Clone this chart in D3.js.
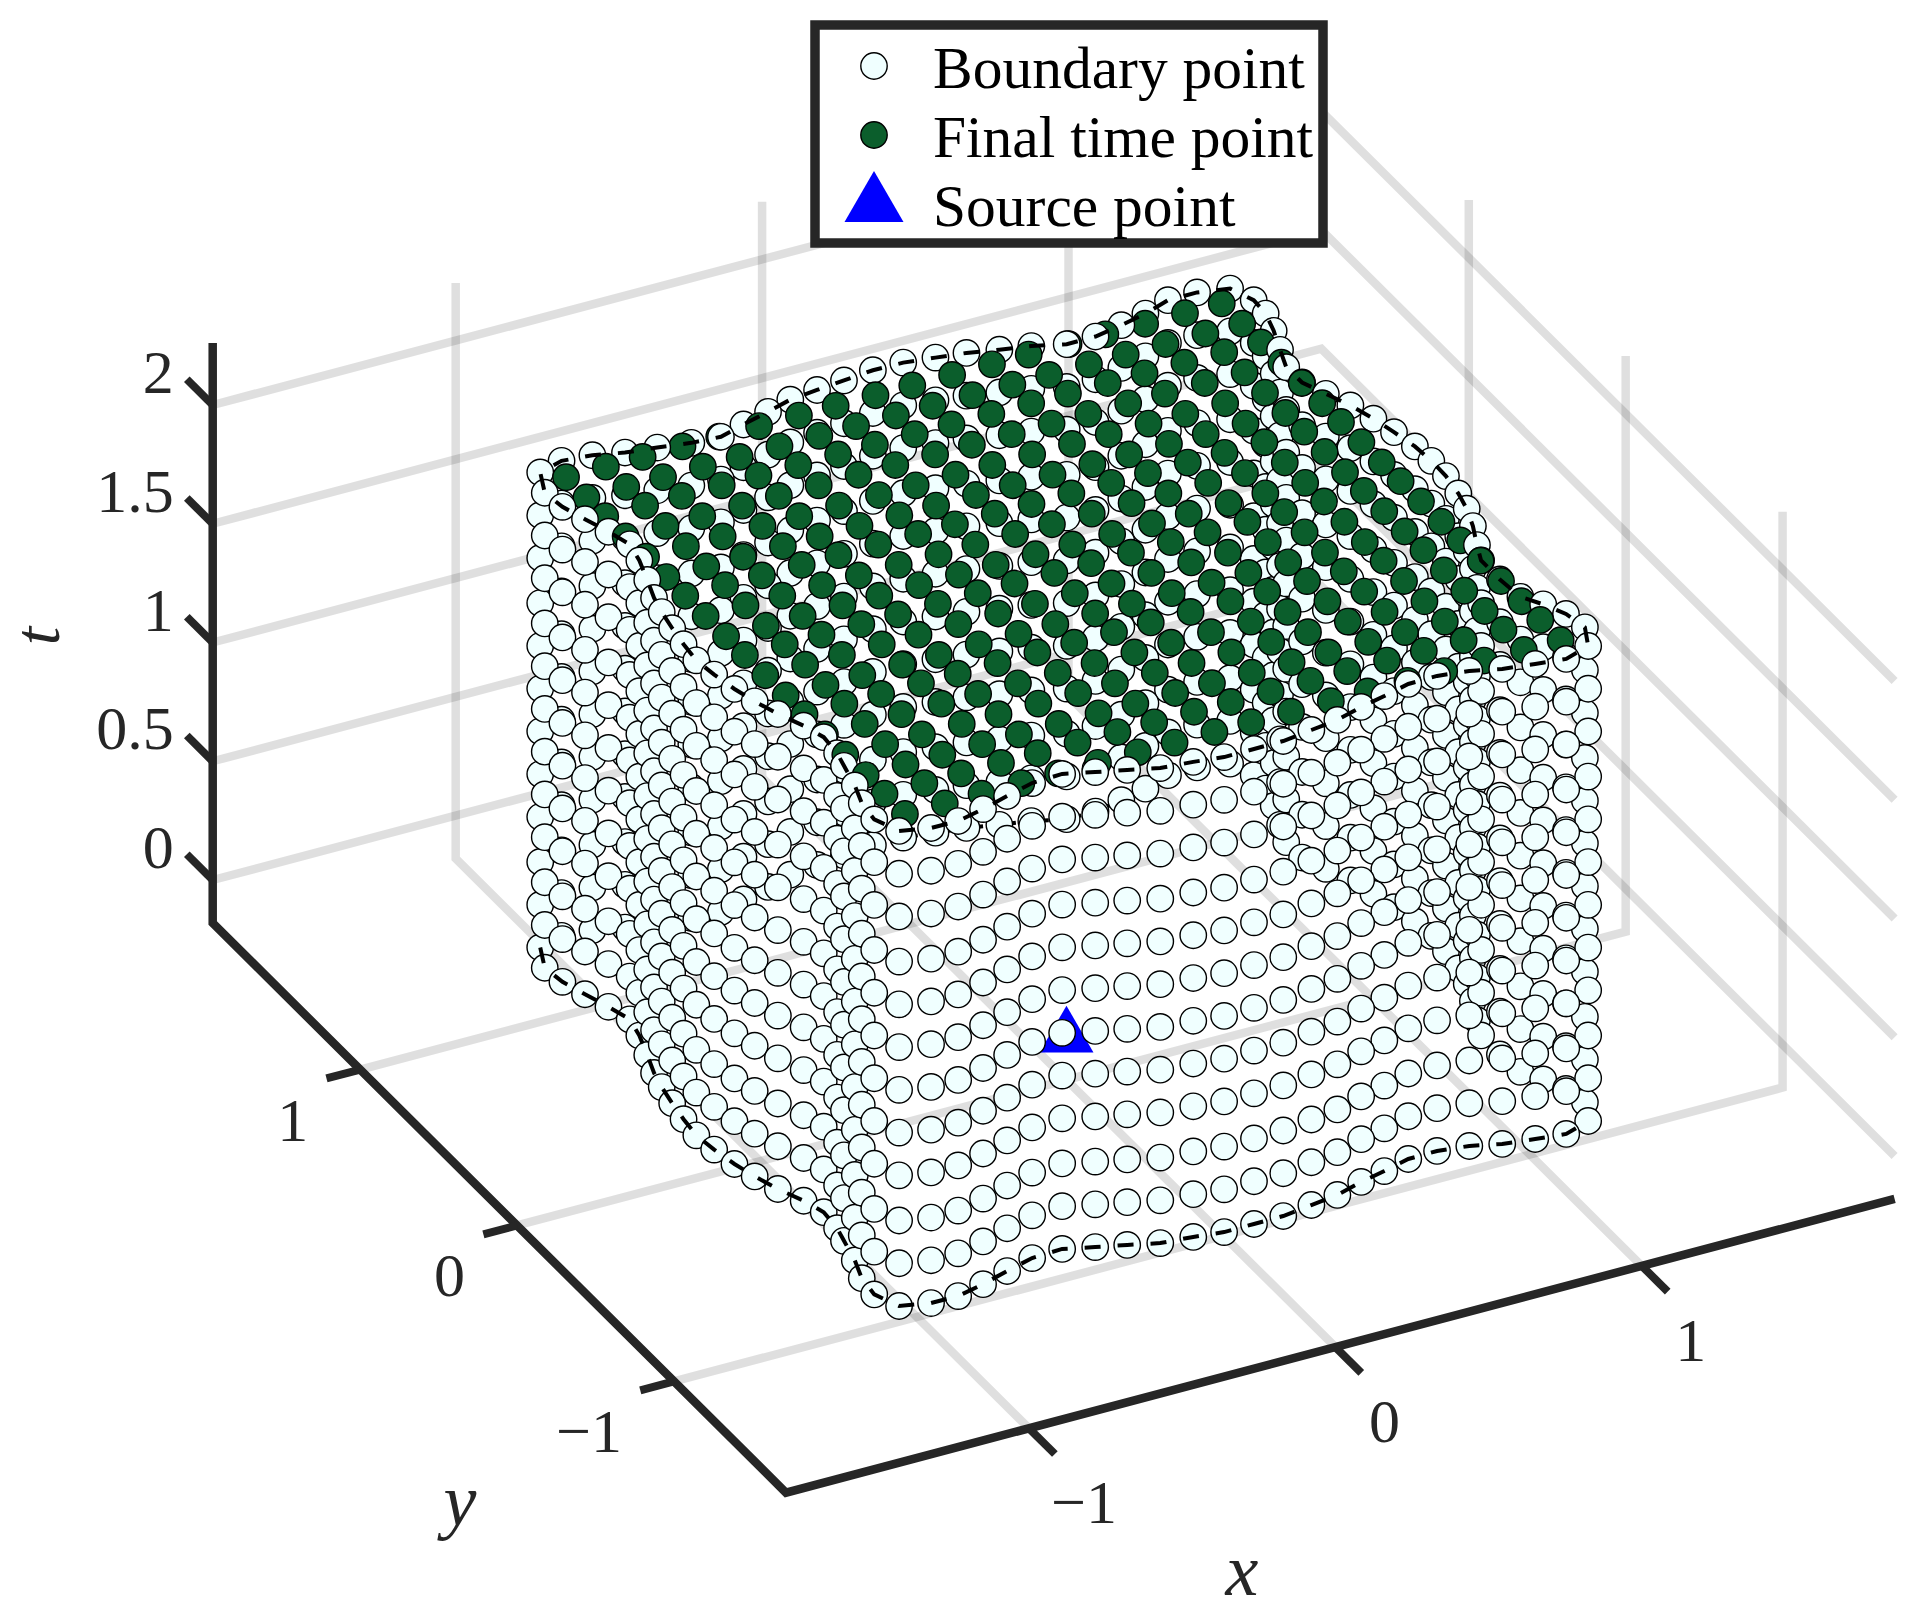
<!DOCTYPE html>
<html>
<head>
<meta charset="utf-8">
<script src="https://d3js.org/d3.v7.min.js"></script>
<style>
	body { margin: 0; background: #fff; }
	text { font-family: "Liberation Serif", serif; fill: #262626; }
	.grid { fill: none; stroke: #000; stroke-opacity: 0.125; stroke-width: 8.5; }
	.axis { fill: none; stroke: #262626; stroke-width: 8.5; stroke-linecap: butt; stroke-linejoin: miter; }
	.tick { fill: none; stroke: #262626; stroke-width: 8; }
	.dash { fill: none; stroke: #000; stroke-width: 4; stroke-dasharray: 16 17; }
	.tick-label { font-size: 62px; }
	.axis-label { font-size: 74px; font-style: italic; }
	.legend-label { font-size: 59.5px; fill: #000; }
</style>
</head>
<body>
<svg id="chart" width="1914" height="1617"></svg>
<script>
var xLim = [-1.793, 1.825];
var yLim = [-1.714, 1.94];
var tLim = [-0.181, 2.261];
var gridTop = 2.243;

var xTicks = [-1, 0, 1];
var yTicks = [-1, 0, 1];
var tTicks = [0, 0.5, 1, 1.5, 2];
var tTickLabels = ["0", "0.5", "1", "1.5", "2"];

// boundary curve: front edge, right edge, back edge, left edge
var boundaryX = [-1.129, -1.039, -0.951, -0.856, -0.76, -0.662, -0.561, -0.471, -0.383, -0.293, -0.192, -0.10, -0.002, 0.094, 0.195, 0.288, 0.383, 0.471, 0.564, 0.659, 0.755, 0.845, 0.943, 1.036,
	1.126, 1.166, 1.152, 1.118, 1.079, 1.071, 1.072, 1.101, 1.14, 1.169, 1.187, 1.2, 1.202, 1.197, 1.18, 1.162, 1.137, 1.104, 1.072, 1.071, 1.10, 1.133, 1.157, 1.161,
	1.13, 1.035, 0.94, 0.847, 0.755, 0.659, 0.565, 0.469, 0.377, 0.284, 0.192, 0.096, -0.002, -0.103, -0.197, -0.291, -0.38, -0.476, -0.566, -0.658, -0.758, -0.854, -0.945, -1.039,
	-1.124, -1.165, -1.156, -1.13, -1.102, -1.08, -1.097, -1.127, -1.156, -1.173, -1.188, -1.20, -1.209, -1.20, -1.185, -1.165, -1.138, -1.102, -1.08, -1.087, -1.102, -1.125, -1.153, -1.163];
var boundaryY = [-1.138, -1.166, -1.167, -1.14, -1.106, -1.074, -1.068, -1.103, -1.135, -1.17, -1.183, -1.20, -1.199, -1.198, -1.18, -1.164, -1.13, -1.106, -1.077, -1.075, -1.093, -1.127, -1.146, -1.162,
	-1.126, -1.027, -0.934, -0.855, -0.786, -0.671, -0.549, -0.466, -0.364, -0.268, -0.179, -0.075, 0.022, 0.117, 0.217, 0.313, 0.411, 0.503, 0.592, 0.691, 0.787, 0.892, 0.99, 1.074,
	1.164, 1.189, 1.189, 1.151, 1.125, 1.102, 1.102, 1.14, 1.164, 1.192, 1.21, 1.228, 1.23, 1.217, 1.205, 1.192, 1.16, 1.129, 1.097, 1.106, 1.128, 1.146, 1.176, 1.189,
	1.159, 1.05, 0.955, 0.862, 0.767, 0.675, 0.58, 0.471, 0.371, 0.289, 0.193, 0.097, -0.002, -0.098, -0.198, -0.288, -0.383, -0.477, -0.562, -0.661, -0.734, -0.848, -0.947, -1.046];
var wallLevels = [0, 0.18, 0.36, 0.55, 0.73, 0.91, 1.09, 1.27, 1.45, 1.64, 1.82, 2];

var finalX = [-1.07, -0.94, -0.82, -0.69, -0.57, -0.44, -0.31, -0.19, -0.06, 0.06, 0.19, 0.32, 0.44, 0.57, 0.69, 0.82, 0.95, 1.07];
var finalY = [1.10, 0.97, 0.85, 0.72, 0.59, 0.46, 0.34, 0.21, 0.08, -0.04, -0.17, -0.30, -0.42, -0.55, -0.68, -0.81, -0.93, -1.06];
var finalT = 2;

var sourcePoint = [0, 0, 0];

var legendLabels = ["Boundary point", "Final time point", "Source point"];

var colors = {boundary: "#f0ffff", final: "#0b5e2c", source: "#0000ff"};

var originX = 212.7, originY = 923;

// each axis moves the point on screen in both directions
var xToPx = d3.scaleLinear().domain(xLim).range([0, 1108.6]);
var xToPy = d3.scaleLinear().domain(xLim).range([0, -293.8]);
var yToPx = d3.scaleLinear().domain(yLim).range([573.3, 0]);
var yToPy = d3.scaleLinear().domain(yLim).range([569.7, 0]);
var tToPy = d3.scaleLinear().domain(tLim).range([0, -580]);

function px(p) { return originX + xToPx(p[0]) + yToPx(p[1]); }
function py(p) { return originY + xToPy(p[0]) + yToPy(p[1]) + tToPy(p[2]); }

var line = d3.line().x(px).y(py);

// larger means closer to the viewer
function depth(p) {
	return 0.86 * (-0.456 * p[0] - 0.89 * p[1]) + 0.35 * p[2];
}

var svg = d3.select("#chart");

var grids = [];
xTicks.forEach(function(x) {
	grids.push([[x, yLim[0], tLim[0]], [x, yLim[1], tLim[0]], [x, yLim[1], gridTop]]);
});
yTicks.forEach(function(y) {
	grids.push([[xLim[0], y, tLim[0]], [xLim[1], y, tLim[0]], [xLim[1], y, gridTop]]);
});
tTicks.forEach(function(t) {
	grids.push([[xLim[0], yLim[1], t], [xLim[1], yLim[1], t], [xLim[1], yLim[0], t]]);
});

svg.append("g").selectAll("path")
	.data(grids).enter()
	.append("path")
	.attr("class", "grid")
	.attr("d", line);

svg.append("path")
	.attr("class", "axis")
	.attr("d", line([[xLim[0], yLim[1], tLim[1]], [xLim[0], yLim[1], tLim[0]], [xLim[0], yLim[0], tLim[0]], [xLim[1], yLim[0], tLim[0]]]));

var ticks = svg.append("g");
xTicks.forEach(function(x) {
	ticks.append("path").attr("class", "tick")
		.attr("d", line([[x, yLim[0], tLim[0]], [x, yLim[0] - 0.165, tLim[0]]]));
	var p = [x, yLim[0], tLim[0]];
	ticks.append("text").attr("class", "tick-label")
		.attr("text-anchor", "middle")
		.attr("x", px(p) + (x < 0 ? 55 : 49))
		.attr("y", py(p) + 95)
		.text(x < 0 ? "\u2212" + Math.abs(x) : x);
});
yTicks.forEach(function(y) {
	ticks.append("path").attr("class", "tick")
		.attr("d", line([[xLim[0], y, tLim[0]], [xLim[0] - 0.11, y, tLim[0]]]));
	var p = [xLim[0], y, tLim[0]];
	ticks.append("text").attr("class", "tick-label")
		.attr("text-anchor", "end")
		.attr("x", px(p) - 52)
		.attr("y", py(p) + 71)
		.text(y < 0 ? "\u2212" + Math.abs(y) : y);
});
tTicks.forEach(function(t, i) {
	ticks.append("path").attr("class", "tick")
		.attr("d", line([[xLim[0], yLim[1], t], [xLim[0], yLim[1] + 0.165, t]]));
	var p = [xLim[0], yLim[1], t];
	ticks.append("text").attr("class", "tick-label")
		.attr("text-anchor", "end")
		.attr("x", px(p) - 39)
		.attr("y", py(p) - 12)
		.text(tTickLabels[i]);
});

svg.append("text").attr("class", "axis-label")
	.attr("text-anchor", "middle")
	.style("font-size", "66px")
	.attr("transform", "translate(59,636) rotate(-90)")
	.text("t");
svg.append("text").attr("class", "axis-label")
	.attr("text-anchor", "middle")
	.attr("x", 460)
	.attr("y", 1525)
	.text("y");
svg.append("text").attr("class", "axis-label")
	.attr("text-anchor", "middle")
	.attr("x", 1242)
	.attr("y", 1595)
	.text("x");

function boundaryPath(from, to, t) {
	var pts = [];
	for (var i = from; i <= to; i++) {
		var k = i % boundaryX.length;
		pts.push([boundaryX[k], boundaryY[k], t]);
	}
	return pts;
}

// back part of the bottom curve, mostly hidden by the markers
svg.append("path")
	.attr("class", "dash")
	.attr("d", line(boundaryPath(24, 72, wallLevels[0])));

var marks = [];
wallLevels.forEach(function(t) {
	boundaryX.forEach(function(x, i) {
		marks.push({p: [x, boundaryY[i], t], kind: "boundary"});
	});
});
finalX.forEach(function(x) {
	finalY.forEach(function(y) {
		marks.push({p: [x, y, finalT], kind: "final"});
	});
});
marks.push({p: sourcePoint, kind: "source"});
marks.sort(function(a, b) { return d3.ascending(depth(a.p), depth(b.p)); });

var circle = d3.symbol().type(d3.symbolCircle).size(Math.PI * 13.2 * 13.2)();
var triangle = d3.symbol().type(d3.symbolTriangle).size(1263)();

svg.append("g").selectAll("path")
	.data(marks).enter()
	.append("path")
	.attr("transform", function(d) { return "translate(" + px(d.p) + "," + py(d.p) + ")"; })
	.attr("d", function(d) { return d.kind == "source" ? triangle : circle; })
	.attr("fill", function(d) { return colors[d.kind]; })
	.attr("stroke", function(d) { return d.kind == "source" ? "none" : "#000"; })
	.attr("stroke-width", 1.4);

// front part of the bottom curve and the whole top curve sit on top of the markers
svg.append("path")
	.attr("class", "dash")
	.attr("d", line(boundaryPath(72, 96 + 24, wallLevels[0])));
svg.append("path")
	.attr("class", "dash")
	.attr("d", line(boundaryPath(0, 96, wallLevels[wallLevels.length - 1])));

var legend = svg.append("g");
legend.append("rect")
	.attr("x", 815)
	.attr("y", 25)
	.attr("width", 508)
	.attr("height", 218)
	.attr("fill", "#fff")
	.attr("stroke", "#262626")
	.attr("stroke-width", 9.5);

var legendMarks = [
	{kind: "boundary", y: 66, d: circle},
	{kind: "final", y: 135, d: circle},
	{kind: "source", y: 205, d: d3.symbol().type(d3.symbolTriangle).size(1507)()}
];
legend.selectAll("path")
	.data(legendMarks).enter()
	.append("path")
	.attr("transform", function(d) { return "translate(874," + d.y + ")"; })
	.attr("d", function(d) { return d.d; })
	.attr("fill", function(d) { return colors[d.kind]; })
	.attr("stroke", function(d) { return d.kind == "source" ? "none" : "#000"; })
	.attr("stroke-width", 1.4);

legend.selectAll("text")
	.data(legendLabels).enter()
	.append("text")
	.attr("class", "legend-label")
	.attr("x", 933)
	.attr("y", function(d, i) { return [88, 157, 226][i]; })
	.text(function(d) { return d; });
</script>
</body>
</html>
